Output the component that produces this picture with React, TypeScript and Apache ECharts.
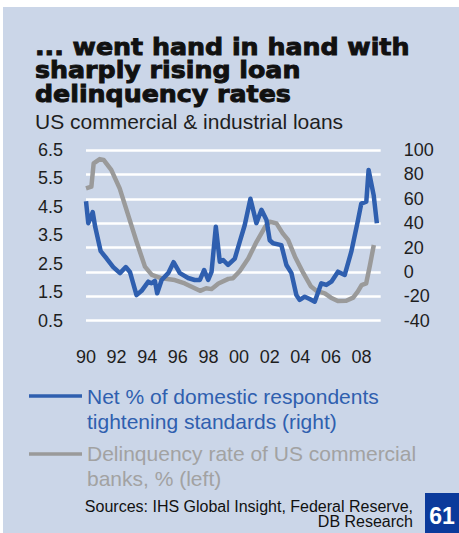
import React, { useEffect, useRef } from "react";
import * as echarts from "echarts";

const titleLines = ["... went hand in hand with", "sharply rising loan", "delinquency rates"];
const subtitle = "US commercial & industrial loans";
const legendBlue = ["Net % of domestic respondents", "tightening standards (right)"];
const legendGrey = ["Delinquency rate of US commercial", "banks, % (left)"];
const sources = ["Sources: IHS Global Insight, Federal Reserve,", "DB Research"];
const pageNo = "61";

// Net % of domestic respondents tightening standards (right axis)
const blueYears = [
  1990.0, 1990.15, 1990.44, 1990.6, 1990.96, 1991.35, 1991.78, 1992.22, 1992.6, 1992.87,
  1993.3, 1993.63, 1994.07, 1994.28, 1994.5, 1994.65, 1994.94, 1995.37, 1995.72, 1996.13,
  1996.67, 1997.1, 1997.44, 1997.72, 1997.98, 1998.2, 1998.48, 1998.74, 1998.96, 1999.28,
  1999.72, 2000.05, 2000.37, 2000.74, 2001.13, 2001.46, 2001.79, 2002.0, 2002.22, 2002.76,
  2003.09, 2003.42, 2003.74, 2003.96, 2004.29, 2004.61, 2004.94, 2005.37, 2005.7, 2006.03,
  2006.46, 2006.9, 2007.33, 2007.77, 2007.98, 2008.31, 2008.46, 2008.79, 2009.0,
];
const blueValues = [
  58, 40, 49, 37, 17, 11, 4, -1, 4, 0,
  -19, -15.5, -8, -9.3, -7.4, -17.5, -6.6, -1, 8, -1,
  -5, -6.6, -6.6, 1.6, -6.6, 0, 37, 8.4, 9.8, 5.7,
  11, 25, 38.5, 60, 40, 51, 42.6, 26, 23.5, 22,
  5.7, -1, -19, -23, -20.3, -22.2, -24.4, -9.3, -10.7, -8,
  0.2, -2.5, 16.6, 42.6, 56, 57.6, 83.6, 63, 40,
];

// Delinquency rate of US commercial banks, % (left axis)
const greyYears = [
  1990.0, 1990.35, 1990.5, 1990.9, 1991.15, 1991.65, 1992.2, 1992.75, 1993.3, 1993.85,
  1994.3, 1994.95, 1995.8, 1996.45, 1997.1, 1997.45, 1997.85, 1998.2, 1998.65, 1999.3,
  1999.6, 2000.05, 2000.6, 2001.15, 2001.7, 2002.0, 2002.44, 2002.85, 2003.2, 2003.65,
  2004.2, 2004.7, 2005.05, 2005.6, 2006.0, 2006.45, 2007.0, 2007.45, 2007.75, 2008.0,
  2008.3, 2008.55, 2008.8,
];
const greyValues = [
  5.15, 5.21, 6.03, 6.18, 6.15, 5.8, 5.15, 4.22, 3.28, 2.4,
  2.11, 1.99, 1.93, 1.81, 1.64, 1.55, 1.64, 1.61, 1.81, 1.97,
  1.99, 2.25, 2.69, 3.28, 3.8, 3.98, 3.92, 3.57, 3.34, 2.75,
  2.17, 1.7, 1.55, 1.46, 1.31, 1.19, 1.2, 1.31, 1.52, 1.75,
  1.81, 2.46, 3.16,
];

const BLUE = "#2F5FAF";
const GREY = "#9A9A9A";
const BG = "#CBD6E8";

export default function App() {
  const ref = useRef<HTMLDivElement>(null);
  useEffect(() => {
    if (!ref.current) return;
    const chart = echarts.init(ref.current, null, { renderer: "svg" });
    const blueData = blueYears.map((x, i) => [x, blueValues[i]]);
    const greyData = greyYears.map((x, i) => [x, greyValues[i]]);
    const labelFont = { fontFamily: "Liberation Sans, Arial, sans-serif", fontSize: 18, color: "#1e1e1e" };
    const graphic: any[] = [
      { type: "rect", z: -10, shape: { x: 3, y: 7, width: 456, height: 526 }, style: { fill: BG } },
      ...titleLines.map((t, i) => ({
        type: "text",
        x: 35,
        y: 47.3 + i * 23.3,
        scaleX: 1.1,
        style: {
          text: t,
          font: "bold 23px 'DejaVu Sans', sans-serif",
          fill: "#111",
          stroke: "#111",
          lineWidth: 0.9,
          verticalAlign: "middle",
          align: "left",
        },
      })),
      {
        type: "text",
        x: 35,
        y: 121,
        style: { text: subtitle, font: "21px 'Liberation Sans', Arial, sans-serif", fill: "#1e1e1e", verticalAlign: "middle" },
      },
      { type: "line", shape: { x1: 29, y1: 396, x2: 82, y2: 396 }, style: { stroke: BLUE, lineWidth: 3.5 } },
      { type: "line", shape: { x1: 29, y1: 454, x2: 82, y2: 454 }, style: { stroke: GREY, lineWidth: 3.5 } },
      ...legendBlue.map((t, i) => ({
        type: "text",
        x: 87,
        y: 396 + i * 25,
        style: { text: t, font: "21px 'Liberation Sans', Arial, sans-serif", fill: BLUE, verticalAlign: "middle" },
      })),
      ...legendGrey.map((t, i) => ({
        type: "text",
        x: 87,
        y: 453.5 + i * 24.5,
        style: { text: t, font: "21px 'Liberation Sans', Arial, sans-serif", fill: "#A2A2A2", verticalAlign: "middle" },
      })),
      ...sources.map((t, i) => ({
        type: "text",
        x: 413,
        y: 506 + i * 15.6,
        style: { text: t, font: "16px 'Liberation Sans', Arial, sans-serif", fill: "#111", verticalAlign: "middle", align: "right" },
      })),
      { type: "rect", shape: { x: 425, y: 493, width: 34, height: 40 }, style: { fill: "#0B3A9B" } },
      {
        type: "text",
        x: 442,
        y: 516,
        style: { text: pageNo, font: "bold 23px 'Liberation Sans', Arial, sans-serif", fill: "#fff", align: "center", verticalAlign: "middle" },
      },
    ];
    chart.setOption({
      animation: false,
      graphic,
      grid: { left: 86, right: 78.3, top: 150, bottom: 212.3, containLabel: false },
      xAxis: {
        type: "value",
        min: 1990,
        max: 2009.25,
        interval: 2,
        axisLine: { show: false },
        axisTick: { show: false },
        splitLine: { show: false },
        axisLabel: {
          ...labelFont,
          margin: 27,
          showMaxLabel: false,
          formatter: (v: number) => String(Math.round(v) % 100).padStart(2, "0"),
        },
      },
      yAxis: [
        {
          type: "value",
          position: "left",
          min: 0.5,
          max: 6.5,
          interval: 1,
          axisLine: { show: false },
          axisTick: { show: false },
          splitLine: { show: false },
          axisLabel: { ...labelFont, margin: 23, formatter: (v: number) => v.toFixed(1) },
        },
        {
          type: "value",
          position: "right",
          min: -40,
          max: 100,
          interval: 20,
          axisLine: { show: false },
          axisTick: { show: false },
          splitLine: { show: true, lineStyle: { color: "#ffffff", width: 2.5 } },
          axisLabel: { ...labelFont, margin: 23 },
        },
      ],
      series: [
        {
          name: legendGrey.join(" "),
          type: "line",
          yAxisIndex: 0,
          data: greyData,
          showSymbol: false,
          lineStyle: { color: GREY, width: 4.5, join: "round" },
          z: 2,
        },
        {
          name: legendBlue.join(" "),
          type: "line",
          yAxisIndex: 1,
          data: blueData,
          showSymbol: false,
          lineStyle: { color: BLUE, width: 4.5, join: "round" },
          z: 3,
        },
      ],
    });
    return () => chart.dispose();
  }, []);
  return <div ref={ref} style={{ position: "absolute", left: 0, top: 0, width: 459, height: 533 }} />;
}
